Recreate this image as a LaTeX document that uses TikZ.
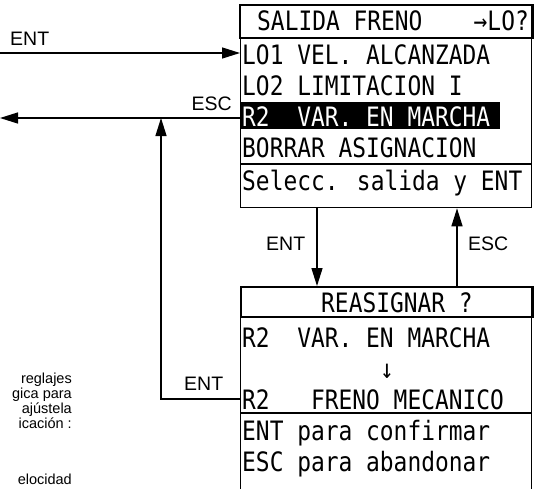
\documentclass[tikz,border=0pt]{standalone}
\usepackage{fontspec}
\setmainfont{Liberation Sans}
\newfontfamily\lcd[FakeStretch=0.857]{DejaVu Sans Mono}
\usetikzlibrary{arrows.meta}
\begin{document}
\begin{tikzpicture}[x=1pt,y=-1pt,
  lcdtext/.style={font=\lcd\fontsize{26.7}{30}\selectfont, anchor=base west, inner sep=0pt},
  lbl/.style={font=\fontsize{19.5}{22}\selectfont, anchor=base west, inner sep=0pt},
  body/.style={font=\fontsize{14.5}{15}\selectfont, anchor=base east, inner sep=0pt},
  arr/.style={line width=1.4pt, -{Triangle[length=18pt,width=11pt]}},
  thinbox/.style={draw, line width=1.3pt, inner sep=0pt, anchor=north west},
  thickbox/.style={draw, line width=2.4pt, inner sep=0pt, anchor=north west}]
\useasboundingbox (0,0) rectangle (534,488);

% top screen
\node[thinbox, minimum width=291pt, minimum height=203pt] (top) at (240,4) {};
\node[thickbox, minimum width=293pt, minimum height=33pt] (toptitle) at (239,4) {};
\fill (240,102) rectangle (500,129);
\draw[line width=2pt] (240,164) -- (531,164);
\node[lcdtext] (t0) at (257,30) {SALIDA FRENO};
\node[lcdtext, anchor=base east] (t0b) at (529,30) {→LO?};
\node[lcdtext] (t1) at (242,64) {LO1 VEL. ALCANZADA};
\node[lcdtext] (t2) at (242,95) {LO2 LIMITACION I};
\node[lcdtext, text=white] (t3) at (242,126) {R2~~VAR. EN MARCHA};
\node[lcdtext] (t4) at (242,157) {BORRAR ASIGNACION};
\node[lcdtext] (t5) at (242,190) {Selecc. salida y ENT};

% bottom screen
\node[thinbox, minimum width=291pt, minimum height=220pt] (bot) at (240,286) {};
\node[thickbox, minimum width=292pt, minimum height=30pt] (bottitle) at (240,286) {};
\draw[line width=2.6pt] (240,413) -- (531,413);
\node[lcdtext] (b0) at (321,312) {REASIGNAR ?};
\node[lcdtext] (b1) at (242,347) {R2~~VAR. EN MARCHA};
\node[lcdtext] (b2) at (380,378) {↓};
\node[lcdtext] (b3) at (242,409) {R2~~~FRENO MECANICO};
\node[lcdtext] (b4) at (242,440) {ENT para confirmar};
\node[lcdtext] (b5) at (242,471) {ESC para abandonar};

% labels
\node[lbl] (l1) at (10,45) {ENT};
\node[lbl, anchor=base east] (l2) at (232,110) {ESC};
\node[lbl] (l3) at (184,390) {ENT};
\node[lbl] (l4) at (266,250) {ENT};
\node[lbl] (l5) at (468,250) {ESC};

% body text (cut off at the left)
\node[body] (p1) at (72,383) {reglajes};
\node[body] (p2) at (72,398) {gica para};
\node[body] (p3) at (72,413) {ajústela};
\node[body] (p4) at (72,428) {icación :};
\node[body] (p5) at (72,484) {elocidad};

% connectors
\coordinate (entin) at (0,53);
\draw[arr] (entin) -- (top.west |- entin);
\coordinate (escout) at (0,118);
\draw[arr] (top.west |- escout) -- (escout);
\coordinate (bend) at (161,399);
\draw[arr] (bot.west |- bend) -- (bend) -- (bend |- escout);
\coordinate (dnx) at (317,0);
\coordinate (upx) at (457,0);
\draw[arr] (top.south -| dnx) -- (bot.north -| dnx);
\draw[arr] (bot.north -| upx) -- (top.south -| upx);
\end{tikzpicture}
\end{document}
